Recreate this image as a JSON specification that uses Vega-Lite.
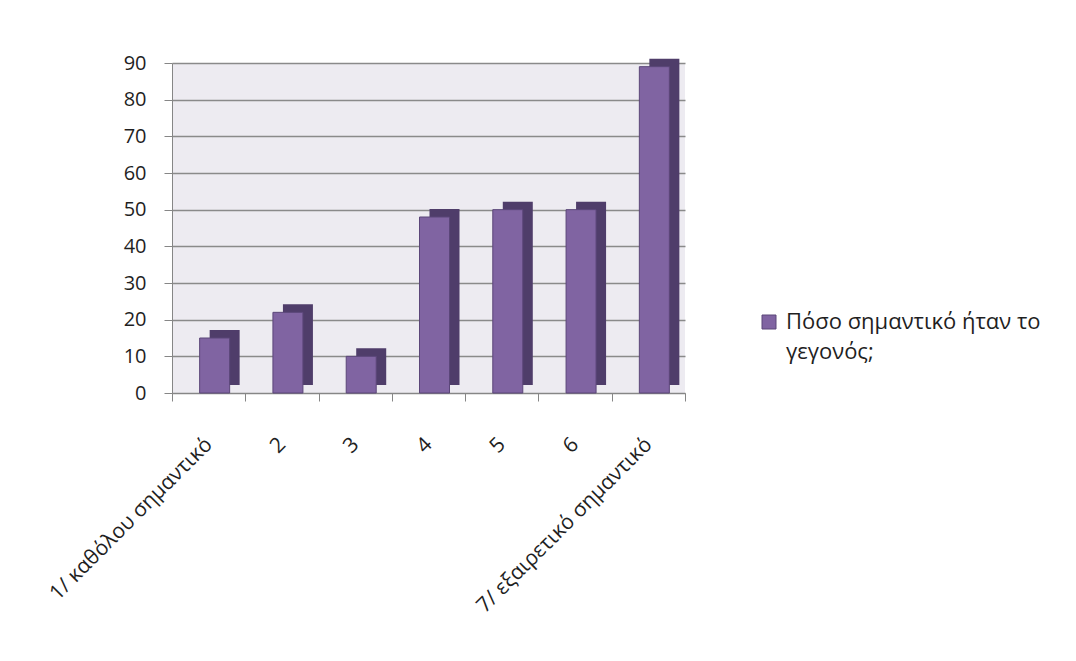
{
  "$schema": "https://vega.github.io/schema/vega-lite/v6.json",
  "width": 513,
  "height": 330,
  "autosize": {"type": "none"},
  "padding": {"left": 172, "top": 63, "right": 391, "bottom": 268},
  "background": "white",
  "config": {
    "font": "Open Sans",
    "view": {"fill": "#EDEBF1", "stroke": null}
  },
  "data": {
    "values": [
      {"cat": "1/ καθόλου σημαντικό", "value": 15, "series": "Πόσο σημαντικό ήταν το γεγονός;"},
      {"cat": "2", "value": 22, "series": "Πόσο σημαντικό ήταν το γεγονός;"},
      {"cat": "3", "value": 10, "series": "Πόσο σημαντικό ήταν το γεγονός;"},
      {"cat": "4", "value": 48, "series": "Πόσο σημαντικό ήταν το γεγονός;"},
      {"cat": "5", "value": 50, "series": "Πόσο σημαντικό ήταν το γεγονός;"},
      {"cat": "6", "value": 50, "series": "Πόσο σημαντικό ήταν το γεγονός;"},
      {"cat": "7/ εξαιρετικό σημαντικό", "value": 89, "series": "Πόσο σημαντικό ήταν το γεγονός;"}
    ]
  },
  "encoding": {
    "x": {
      "field": "cat",
      "type": "nominal",
      "sort": null,
      "scale": {"paddingInner": 0, "paddingOuter": 0},
      "axis": {
        "title": null,
        "labelAngle": -45,
        "labelAlign": "right",
        "labelBaseline": "middle",
        "labelFontSize": 21,
        "labelColor": "#1F1F1F",
        "labelLimit": 400,
        "labelPadding": 40,
        "tickBand": "extent",
        "tickSize": 8,
        "tickColor": "#868686",
        "domainColor": "#868686",
        "grid": false
      }
    },
    "y": {
      "field": "value",
      "type": "quantitative",
      "scale": {"domain": [0, 90]},
      "axis": {
        "title": null,
        "values": [0, 10, 20, 30, 40, 50, 60, 70, 80, 90],
        "labelFontSize": 20,
        "labelColor": "#1F1F1F",
        "labelPadding": 18,
        "tickSize": 8,
        "tickColor": "#868686",
        "domainColor": "#868686",
        "grid": true,
        "gridColor": "#8A8A8A",
        "gridWidth": 1.5
      }
    }
  },
  "layer": [
    {
      "mark": {"type": "bar", "width": 30, "xOffset": 16, "yOffset": -8, "color": "#4F3D6A"}
    },
    {
      "mark": {"type": "bar", "width": 30, "xOffset": 6, "stroke": "#5B4679", "strokeWidth": 1},
      "encoding": {
        "color": {
          "field": "series",
          "type": "nominal",
          "scale": {"range": ["#8064A2"]},
          "legend": {
            "title": null,
            "orient": "none",
            "legendX": 586,
            "legendY": 248,
            "symbolType": "square",
            "symbolSize": 196,
            "symbolStrokeColor": "#5B4679",
            "symbolStrokeWidth": 1,
            "labelFontSize": 22,
            "labelColor": "#1F1F1F",
            "labelLimit": 400,
            "labelOffset": 6,
            "labelExpr": "['Πόσο σημαντικό ήταν το', 'γεγονός;']",
            "encode": {"labels": {"update": {"lineHeight": {"value": 30}}}}
          }
        }
      }
    }
  ]
}
